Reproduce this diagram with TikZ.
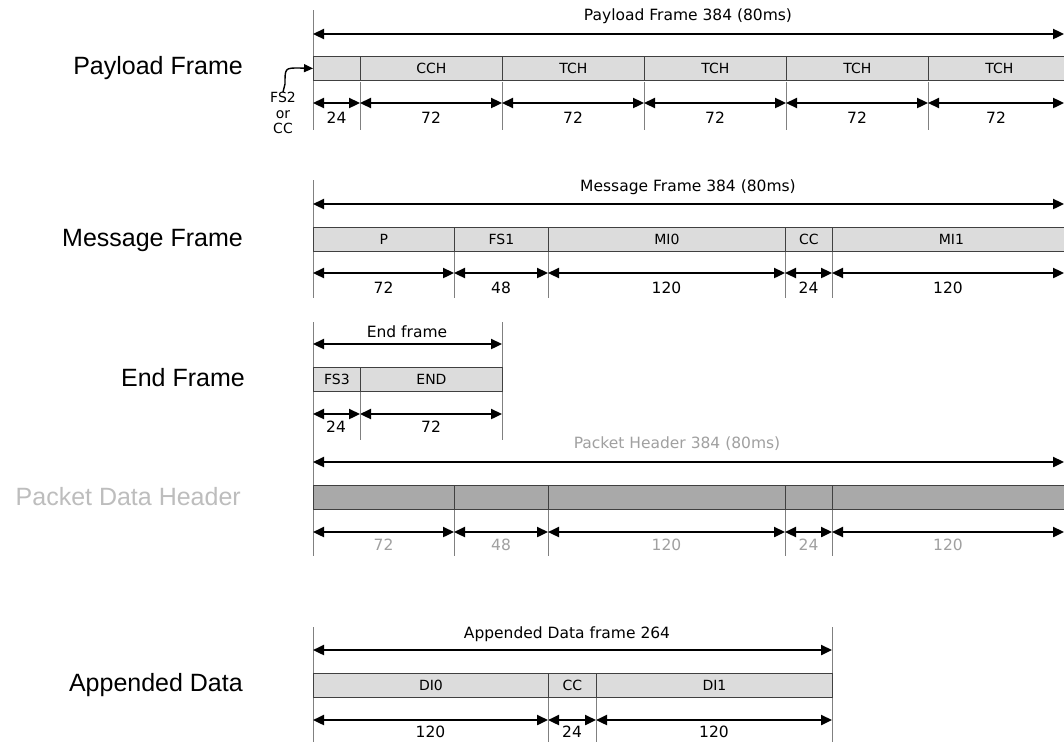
\documentclass[tikz,border=0pt]{standalone}
\usepackage{fontspec}
\setmainfont{DejaVu Sans}
\newfontfamily\lab{Liberation Sans}
\usetikzlibrary{arrows.meta}
\definecolor{barfill}{HTML}{DCDCDC}
\definecolor{darkfill}{HTML}{A9A9A9}
\definecolor{tickc}{HTML}{808080}
\definecolor{gtext}{HTML}{A0A0A0}
\definecolor{lgtext}{HTML}{BDBDBD}
\tikzset{
  seg/.style={draw=black!75, line width=0.9pt, fill=barfill, minimum height=24pt, inner sep=0pt, anchor=north west, font=\fontsize{14}{16}\selectfont},
  darkseg/.style={seg, fill=darkfill},
  tickline/.style={draw=tickc, line width=0.9pt},
  dimarrow/.style={line width=2.3pt, {Triangle[length=11pt,width=10pt]}-{Triangle[length=11pt,width=10pt]}},
  rowlabel/.style={anchor=east, inner sep=0pt, font=\lab\fontsize{25}{30}\selectfont},
  small/.style={font=\fontsize{15.5}{17}\selectfont, inner sep=0pt},
}
\begin{document}
\begin{tikzpicture}[x=1pt,y=-1pt]
\useasboundingbox (0,0) rectangle (1064,742);
\fill[white] (0,0) rectangle (1064,742);

% ---------------- Payload Frame ----------------
\node[rowlabel] (lpay) at (243,68) {Payload Frame};
\draw[tickline] (313,10) -- (313,130);
\coordinate (payL) at (313,34); \coordinate (payR) at (1064,34);
\draw[dimarrow] (payL) -- (payR);
\node[small] (tpay) at (688,16) {Payload Frame 384 (80ms)};
\foreach \a/\b/\t [count=\i] in {313/360/{},360/502/CCH,502/644/TCH,644/786/TCH,786/928/TCH,928/1070/TCH}
  {\node[seg, minimum width={(\b-\a)*1pt}] (pay\i) at (\a,56) {\t};}
\foreach \a/\b/\t [count=\i] in {313/360/24,360/502/72,502/644/72,644/786/72,786/928/72,928/1064/72}
  {\coordinate (pda\i) at (\a,103); \coordinate (pdb\i) at (\b,103);
   \draw[dimarrow] (pda\i) -- (pdb\i);
   \node[small] (pdl\i) at ({(\a+\b)/2},118) {\t};
   \draw[tickline] (\b,82) -- (\b,130);}
\node[inner sep=0pt, align=center, font=\fontsize{14}{15.5}\selectfont] (fscc) at (283,113) {FS2\\or\\CC};
\draw[line width=1.4pt, -{Triangle[length=9pt,width=8pt]}] (fscc.north) -- (285,84) .. controls (285,68) .. (299,68) -- (pay1.west);

% ---------------- Message Frame ----------------
\node[rowlabel] (lmsg) at (243,240) {Message Frame};
\draw[tickline] (313,180) -- (313,298);
\coordinate (msgL) at (313,204); \coordinate (msgR) at (1064,204);
\draw[dimarrow] (msgL) -- (msgR);
\node[small] (tmsg) at (688,187) {Message Frame 384 (80ms)};
\foreach \a/\b/\t [count=\i] in {313/454/P,454/548/FS1,548/785/MI0,785/832/CC,832/1070/MI1}
  {\node[seg, minimum width={(\b-\a)*1pt}] (msg\i) at (\a,227) {\t};}
\foreach \a/\b/\t [count=\i] in {313/454/72,454/548/48,548/785/120,785/832/24,832/1064/120}
  {\coordinate (mda\i) at (\a,273); \coordinate (mdb\i) at (\b,273);
   \draw[dimarrow] (mda\i) -- (mdb\i);
   \node[small] (mdl\i) at ({(\a+\b)/2},288) {\t};
   \draw[tickline] (\b,252) -- (\b,298);}

% ---------------- End Frame ----------------
\node[rowlabel] (lend) at (245,378) {End Frame};
\draw[tickline] (313,322) -- (313,440);
\draw[tickline] (502,322) -- (502,440);
\coordinate (endL) at (313,344); \coordinate (endR) at (502,344);
\draw[dimarrow] (endL) -- (endR);
\node[small] (tend) at (407,332) {End frame};
\node[seg, minimum width=47pt] (end1) at (313,367) {FS3};
\node[seg, minimum width=142pt] (end2) at (360,367) {END};
\coordinate (eda1) at (313,414); \coordinate (edb1) at (360,414);
\coordinate (eda2) at (360,414); \coordinate (edb2) at (502,414);
\draw[dimarrow] (eda1) -- (edb1);
\draw[dimarrow] (eda2) -- (edb2);
\draw[tickline] (360,392) -- (360,440);
\node[small] (edl1) at (336,427) {24};
\node[small] (edl2) at (431,427) {72};

% ---------------- Packet Data Header ----------------
\node[rowlabel, text=lgtext] (lpkt) at (241,497) {Packet Data Header};
\draw[tickline] (313,440) -- (313,556);
\coordinate (pktL) at (313,462); \coordinate (pktR) at (1064,462);
\draw[dimarrow] (pktL) -- (pktR);
\node[small, text=gtext] (tpkt) at (677,444) {Packet Header 384 (80ms)};
\foreach \a/\b [count=\i] in {313/454,454/548,548/785,785/832,832/1070}
  {\node[darkseg, minimum width={(\b-\a)*1pt}] (pkt\i) at (\a,485) {};}
\foreach \a/\b/\t [count=\i] in {313/454/72,454/548/48,548/785/120,785/832/24,832/1064/120}
  {\coordinate (kda\i) at (\a,532); \coordinate (kdb\i) at (\b,532);
   \draw[dimarrow] (kda\i) -- (kdb\i);
   \node[small, text=gtext] (kdl\i) at ({(\a+\b)/2},545) {\t};
   \draw[tickline] (\b,510) -- (\b,556);}

% ---------------- Appended Data ----------------
\node[rowlabel] (lapp) at (243,685) {Appended Data};
\draw[tickline] (313,627) -- (313,742);
\draw[tickline] (832,627) -- (832,742);
\coordinate (appL) at (313,650); \coordinate (appR) at (832,650);
\draw[dimarrow] (appL) -- (appR);
\node[small] (tapp) at (567,634) {Appended Data frame 264};
\foreach \a/\b/\t [count=\i] in {313/548/DI0,548/596/CC,596/832/DI1}
  {\node[seg, minimum width={(\b-\a)*1pt}] (app\i) at (\a,673) {\t};}
\foreach \a/\b/\t [count=\i] in {313/548/120,548/596/24,596/832/120}
  {\coordinate (ada\i) at (\a,720); \coordinate (adb\i) at (\b,720);
   \draw[dimarrow] (ada\i) -- (adb\i);
   \node[small] (adl\i) at ({(\a+\b)/2},732) {\t};}
\draw[tickline] (548,698) -- (548,742);
\draw[tickline] (596,698) -- (596,742);
\end{tikzpicture}
\end{document}
